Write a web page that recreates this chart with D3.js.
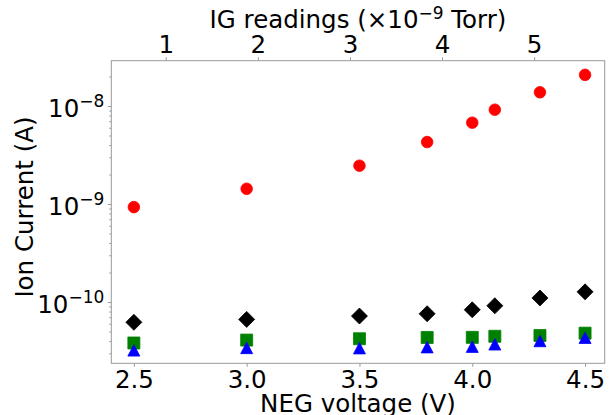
<!DOCTYPE html>
<html>
<head>
<meta charset="utf-8">
<script src="https://cdn.jsdelivr.net/npm/d3@7"></script>
<style>
  body { margin: 0; background: #fff; }
  text { font-family: "DejaVu Sans", sans-serif; fill: #000; }
</style>
</head>
<body>
<svg id="chart" width="611" height="415"></svg>
<script>
// NEG voltage of each measurement (V)
var neg_voltage = [2.5, 3.0, 3.5, 3.8, 4.0, 4.1, 4.3, 4.5];

// ion current for each series (A)
var current_red   = [9.3e-10, 1.43e-9, 2.46e-9, 4.29e-9, 6.76e-9, 9.17e-9, 1.38e-8, 2.08e-8];
var current_black = [6.21e-11, 6.65e-11, 7.19e-11, 7.59e-11, 8.33e-11, 9.16e-11, 1.10e-10, 1.27e-10];
var current_green = [3.82e-11, 4.09e-11, 4.22e-11, 4.35e-11, 4.36e-11, 4.47e-11, 4.55e-11, 4.81e-11];
var current_blue  = [3.21e-11, 3.40e-11, 3.38e-11, 3.46e-11, 3.50e-11, 3.70e-11, 4.00e-11, 4.32e-11];

// tick labels
var x_ticks = [2.5, 3.0, 3.5, 4.0, 4.5];
var ig_ticks = [1, 2, 3, 4, 5];
var y_exponents = [-10, -9, -8];

var svg = d3.select('#chart');
var plot = {left: 111.3, right: 604.7, top: 60.7, bottom: 363.3};
var spine_color = '#999';
var font_size = 24.5;
var sup_size = 17;

var x_scale = d3.scaleLinear()
  .domain([2.4, 4.587])
  .range([plot.left, plot.right]);

// top axis is the ion gauge reading, linear against the bottom one
var ig_scale = d3.scaleLinear()
  .domain([0.409, 5.766])
  .range([plot.left, plot.right]);

var y_scale = d3.scaleLog()
  .domain([2.37e-11, 2.90e-8])
  .range([plot.bottom, plot.top]);

// marker paths, all centred on 0,0
var marker_path = {
  circle: function() {
    return d3.symbol().type(d3.symbolCircle).size(Math.PI * 5.8 * 5.8)();
  },
  diamond: function() {
    var h = 8;
    return 'M0,' + (-h) + 'L' + h + ',0L0,' + h + 'L' + (-h) + ',0Z';
  },
  square: function() {
    var h = 6;
    return 'M' + (-h) + ',' + (-h) + 'L' + h + ',' + (-h) + 'L' + h + ',' + h + 'L' + (-h) + ',' + h + 'Z';
  },
  triangle: function() {
    var w = 6, h = 5.7;
    return 'M0,' + (-h) + 'L' + w + ',' + h + 'L' + (-w) + ',' + h + 'Z';
  }
};

var series = [
  {name: 'red',   values: current_red,   color: '#ff0000', marker: 'circle'},
  {name: 'black', values: current_black, color: '#000000', marker: 'diamond'},
  {name: 'green', values: current_green, color: '#008000', marker: 'square'},
  {name: 'blue',  values: current_blue,  color: '#0000ff', marker: 'triangle'}
];

// minor log ticks, 2..9 of each decade inside the domain
var minor_ticks = [];
[-11, -10, -9, -8].forEach(function(e) {
  for (var m = 2; m <= 9; m++) {
    var v = m * Math.pow(10, e);
    if (v > y_scale.domain()[0] && v < y_scale.domain()[1]) minor_ticks.push(v);
  }
});

// bottom axis
var x_axis = svg.append('g')
  .attr('class', 'x axis')
  .attr('transform', 'translate(0,' + plot.bottom + ')')
  .call(d3.axisBottom(x_scale)
    .tickValues(x_ticks)
    .tickFormat(d3.format('.1f'))
    .tickSize(3.5)
    .tickPadding(4));

// top axis
var ig_axis = svg.append('g')
  .attr('class', 'ig axis')
  .attr('transform', 'translate(0,' + plot.top + ')')
  .call(d3.axisTop(ig_scale)
    .tickValues(ig_ticks)
    .tickFormat(d3.format('d'))
    .tickSize(3.5)
    .tickPadding(4.7));

// left axis, minor then major
svg.append('g')
  .attr('class', 'y minor axis')
  .attr('transform', 'translate(' + plot.left + ',0)')
  .call(d3.axisLeft(y_scale)
    .tickValues(minor_ticks)
    .tickFormat('')
    .tickSize(2));

var y_axis = svg.append('g')
  .attr('class', 'y axis')
  .attr('transform', 'translate(' + plot.left + ',0)')
  .call(d3.axisLeft(y_scale)
    .tickValues(y_exponents.map(function(e) { return Math.pow(10, e); }))
    .tickFormat('')
    .tickSize(3.5)
    .tickPadding(3.5));

// power of ten labels with superscript
y_axis.selectAll('.tick text')
  .attr('dy', 10)
  .each(function(d) {
    var t = d3.select(this);
    t.append('tspan').text('10');
    t.append('tspan')
      .attr('class', 'sup')
      .attr('dy', -10)
      .text('\u2212' + Math.round(-Math.log10(d)));
  });

svg.selectAll('.axis .domain').remove();
svg.selectAll('.axis line').attr('stroke', spine_color);
svg.selectAll('.axis text')
  .attr('fill', '#000')
  .style('font-family', '"DejaVu Sans", sans-serif')
  .style('font-size', font_size + 'px');
y_axis.selectAll('.tick text tspan.sup').style('font-size', sup_size + 'px');

// frame
svg.append('rect')
  .attr('x', plot.left)
  .attr('y', plot.top)
  .attr('width', plot.right - plot.left)
  .attr('height', plot.bottom - plot.top)
  .attr('fill', 'none')
  .attr('stroke', spine_color)
  .attr('stroke-width', 1);

// markers for each series
series.forEach(function(s) {
  var pts = neg_voltage.map(function(v, i) { return {x: v, y: s.values[i]}; });
  svg.append('g')
    .attr('class', 'series ' + s.name)
    .selectAll('path')
    .data(pts)
    .enter()
    .append('path')
    .attr('d', marker_path[s.marker])
    .attr('transform', function(d) {
      return 'translate(' + x_scale(d.x) + ',' + y_scale(d.y) + ')';
    })
    .attr('fill', s.color)
    .attr('stroke', s.color)
    .attr('stroke-width', 0.8);
});

// axis labels
svg.append('text')
  .attr('x', (plot.left + plot.right) / 2)
  .attr('y', 412)
  .attr('text-anchor', 'middle')
  .style('font-size', font_size + 'px')
  .text('NEG voltage (V)');

svg.append('text')
  .attr('transform', 'translate(33,207) rotate(-90)')
  .attr('text-anchor', 'middle')
  .style('font-size', font_size + 'px')
  .text('Ion Current (A)');

var title = svg.append('text')
  .attr('x', (plot.left + plot.right) / 2)
  .attr('y', 28)
  .attr('text-anchor', 'middle')
  .style('font-size', font_size + 'px');
title.append('tspan').text('IG readings (\u00d710');
title.append('tspan').attr('dy', -9).style('font-size', sup_size + 'px').text('\u22129');
title.append('tspan').attr('dy', 9).text(' Torr)');
</script>
</body>
</html>
